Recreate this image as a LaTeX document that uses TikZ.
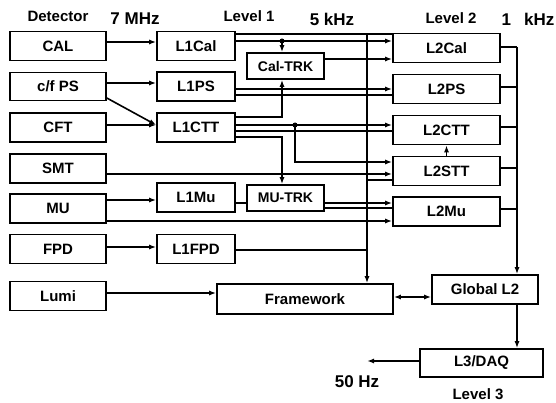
\documentclass[tikz,border=0pt]{standalone}
\usepackage{fontspec}
\setmainfont{Liberation Sans}
\usetikzlibrary{arrows,arrows.meta,positioning,calc}

\begin{document}
\begin{tikzpicture}[x=1pt,y=-1pt,>={Latex[length=7pt,width=5pt]},
  blk/.style={draw, rectangle, line width=1.6pt, inner sep=0pt, font=\fontsize{15}{18}\selectfont\bfseries},
  trk/.style={blk, font=\fontsize{14}{17}\selectfont\bfseries, minimum width=77pt, minimum height=26pt},
  hdr/.style={font=\fontsize{15}{18}\selectfont\bfseries},
  freq/.style={font=\fontsize{17}{20}\selectfont\bfseries},
  wire/.style={line width=1.6pt},
  fine/.style={line width=1.1pt}]

\useasboundingbox (0,0) rectangle (556,403);

% Headers
\node[hdr] (hDet) at (58,16) {Detector};
\node[freq] (h7) at (135,19) {7 MHz};
\node[hdr] (hL1) at (249,16) {Level 1};
\node[freq] (h5) at (332,19) {5 kHz};
\node[hdr] (hL2) at (451,18) {Level 2};
\node[freq] (h1) at (528,19) {1\hspace{13pt}kHz};
\node[freq] (h50) at (357,382) {50 Hz};
\node[hdr] (hL3) at (478,394) {Level 3};

% Detector column
\foreach \n/\y in {CAL/46, CFT/127.5, SMT/168.5, MU/208.5, FPD/249, Lumi/296}
  \node[blk, minimum width=96pt, minimum height=29pt] (\n) at (58,\y) {\n};
\node[blk, minimum width=96pt, minimum height=28pt] (cfPS) at (58,86.5) {c/f PS};

% Level 1 column
\foreach \n/\y in {L1Cal/46, L1PS/86.5, L1CTT/127.5, L1Mu/197.5, L1FPD/249}
  \node[blk, minimum width=78pt, minimum height=29pt] (\n) at (196,\y) {\n};
\node[trk] (CalTRK) at (285.5,66) {Cal-TRK};
\node[trk] (MUTRK) at (285.5,198) {MU-TRK};
\node[blk, minimum width=176pt, minimum height=30pt] (Framework) at (305,299) {Framework};

% Level 2 column
\foreach \n/\y in {L2Cal/48, L2PS/89, L2CTT/130, L2STT/171, L2Mu/211.5}
  \node[blk, minimum width=107pt, minimum height=29pt] (\n) at (446.5,\y) {\n};
\node[blk, minimum width=106pt, minimum height=29pt] (GlobalL2) at (485,289.5) {Global L2};
\node[blk, minimum width=123pt, minimum height=28pt] (L3DAQ) at (481.5,363) {L3/DAQ};

% Bus points
\coordinate (busT) at (367,34);
\coordinate (calx) at (282,41);
\coordinate (cttx) at (295,125);
\coordinate (rbus) at (517,47);
\coordinate (out) at (367,361);

% Detector to Level 1
\draw[wire,->] (CAL.east |- 0,42) -- (L1Cal.west |- 0,42);
\draw[wire,->] (cfPS.east |- 0,83) -- (L1PS.west |- 0,83);
\draw[wire,->] (cfPS.east |- 0,98) -- (L1CTT.west |- 0,125);
\draw[wire,->] (CFT.east |- 0,125) -- (L1CTT.west |- 0,125);
\draw[wire,->] (MU.east |- 0,200) -- (L1Mu.west |- 0,200);
\draw[wire,->] (FPD.east |- 0,247) -- (L1FPD.west |- 0,247);
\draw[wire,->] (Lumi.east |- 0,293) -- (Framework.west |- 0,293);
\draw[wire,->] (SMT.east |- 0,174) -- (L2STT.west |- 0,174);
\draw[wire,->] (MU.east |- 0,221) -- (L2Mu.west |- 0,221);

% Level 1 to framework bus
\draw[line width=2pt,->] (busT) -- (busT |- Framework.north);
\draw[fine] (L1Cal.east |- 0,34) -- (L2Cal.west |- 0,34);
\draw[wire] (L1FPD.east |- 0,250) -- (busT |- 0,250);
\draw[fine] (busT |- 0,180) -- (L2STT.west |- 0,180);

% Level 1 to Level 2
\draw[wire,->] (L1Cal.east |- 0,41) -- (L2Cal.west |- 0,41);
\fill (calx) circle (2.5pt);
\draw[wire,->] (calx) -- (calx |- CalTRK.north);
\draw[wire,->] (CalTRK.east |- 0,59) -- (L2Cal.west |- 0,59);
\draw[wire,->] (L1PS.east |- 0,89) -- (L2PS.west |- 0,89);
\draw[fine] (L1PS.east |- 0,95) -- (L2PS.west |- 0,95);
\draw[wire,->] (L1CTT.east |- 0,117) -| (calx |- CalTRK.south);
\draw[wire,->] (L1CTT.east |- 0,125) -- (L2CTT.west |- 0,125);
\fill (cttx) circle (2.5pt);
\draw[wire,->] (cttx) |- (L2STT.west |- 0,162);
\draw[fine] (L1CTT.east |- 0,131) -- (L2CTT.west |- 0,131);
\draw[wire,->] (L1CTT.east |- 0,137) -| (calx |- MUTRK.north);
\draw[wire] (L1Mu.east |- 0,203) -- (MUTRK.west |- 0,203);
\draw[wire,->] (MUTRK.east |- 0,203) -- (L2Mu.west |- 0,203);
\draw[fine] (MUTRK.east |- 0,208) -- (L2Mu.west |- 0,208);
\draw[wire,->] (L2STT) -- (L2CTT);

% Level 2 to Global L2 and Level 3
\foreach \n/\y in {L2Cal/47, L2PS/87, L2CTT/127, L2STT/168, L2Mu/209}
  \draw[wire] (\n.east |- 0,\y) -- (rbus |- 0,\y);
\draw[wire,->] (rbus) -- (rbus |- GlobalL2.north);
\draw[wire,->] (rbus |- GlobalL2.south) -- (rbus |- L3DAQ.north);
\draw[wire,<->] (Framework.east |- 0,297) -- (GlobalL2.west |- 0,297);
\draw[wire,->] (L3DAQ.west |- 0,361) -- (out);

\end{tikzpicture}
\end{document}
